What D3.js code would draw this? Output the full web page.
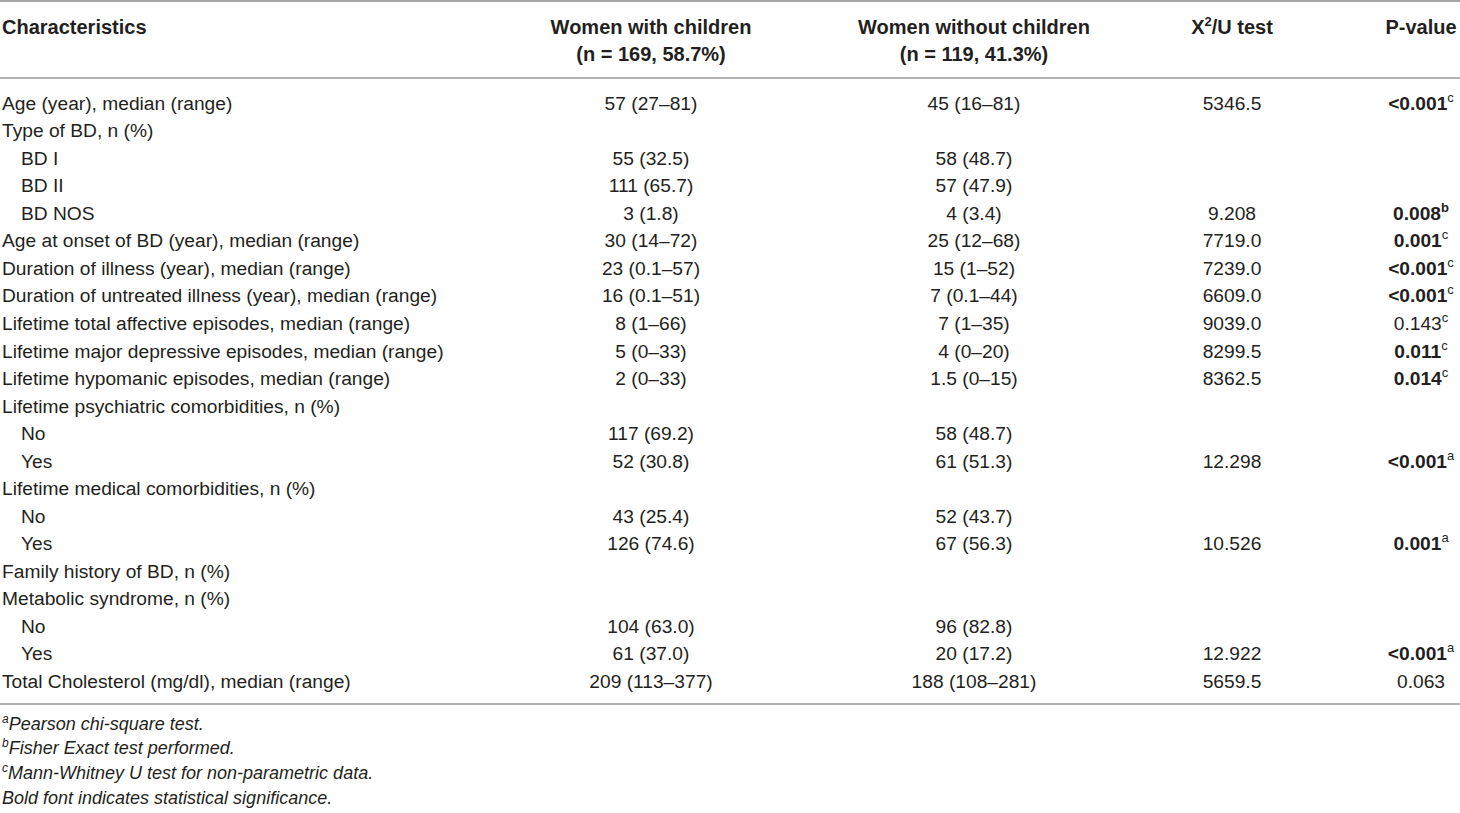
<!DOCTYPE html>
<html><head><meta charset="utf-8">
<script src="https://cdn.jsdelivr.net/npm/d3@7/dist/d3.min.js"></script>
<style>
html,body{margin:0;padding:0;background:#fff;}
svg text{font-family:"Liberation Sans Narrow","Arial Narrow","Liberation Sans",sans-serif;fill:#231f20;}
</style></head>
<body>
<svg id="c" width="1460" height="813"></svg>
<script>
const headers = [
  ["Characteristics"],
  ["Women with children", "(n = 169, 58.7%)"],
  ["Women without children", "(n = 119, 41.3%)"],
  ["X2/U test"],
  ["P-value"]
];
const labels = [
  "Age (year), median (range)",
  "Type of BD, n (%)",
  "BD I",
  "BD II",
  "BD NOS",
  "Age at onset of BD (year), median (range)",
  "Duration of illness (year), median (range)",
  "Duration of untreated illness (year), median (range)",
  "Lifetime total affective episodes, median (range)",
  "Lifetime major depressive episodes, median (range)",
  "Lifetime hypomanic episodes, median (range)",
  "Lifetime psychiatric comorbidities, n (%)",
  "No",
  "Yes",
  "Lifetime medical comorbidities, n (%)",
  "No",
  "Yes",
  "Family history of BD, n (%)",
  "Metabolic syndrome, n (%)",
  "No",
  "Yes",
  "Total Cholesterol (mg/dl), median (range)"
];
const indented = [0,0,1,1,1,0,0,0,0,0,0,0,1,1,0,1,1,0,0,1,1,0];
const withChildren = ["57 (27–81)","","55 (32.5)","111 (65.7)","3 (1.8)","30 (14–72)","23 (0.1–57)","16 (0.1–51)","8 (1–66)","5 (0–33)","2 (0–33)","","117 (69.2)","52 (30.8)","","43 (25.4)","126 (74.6)","","","104 (63.0)","61 (37.0)","209 (113–377)"];
const withoutChildren = ["45 (16–81)","","58 (48.7)","57 (47.9)","4 (3.4)","25 (12–68)","15 (1–52)","7 (0.1–44)","7 (1–35)","4 (0–20)","1.5 (0–15)","","58 (48.7)","61 (51.3)","","52 (43.7)","67 (56.3)","","","96 (82.8)","20 (17.2)","188 (108–281)"];
const testStat = ["5346.5","","","","9.208","7719.0","7239.0","6609.0","9039.0","8299.5","8362.5","","","12.298","","","10.526","","","","12.922","5659.5"];
const pValue = ["<0.001","","","","0.008","0.001","<0.001","<0.001","0.143","0.011","0.014","","","<0.001","","","0.001","","","","<0.001","0.063"];
const pSup =   ["c","","","","b","c","c","c","c","c","c","","","a","","","a","","","","a",""];
const pBold =  [1,0,0,0,1,1,1,1,0,1,1,0,0,1,0,0,1,0,0,0,1,0];
const footnotes = [
  {sup:"a", text:"Pearson chi-square test."},
  {sup:"b", text:"Fisher Exact test performed."},
  {sup:"c", text:"Mann-Whitney U test for non-parametric data."},
  {sup:"", text:"Bold font indicates statistical significance."}
];

const svg = d3.select("#c");
const FS = 19.2;
const HFS = 20;
const BASE = 6.8; // baseline offset from row centre
const colKeys = ["label","c1","c2","test","p"];
const x = d3.scaleOrdinal().domain(colKeys).range([2, 651, 974, 1232, 1421]);
const y = d3.scalePoint().domain(d3.range(labels.length)).range([103, 681]);
const lineColor = "#9a9a9a";

// rules
[1, 78, 704].forEach(v => svg.append("line").attr("x1",0).attr("x2",1460).attr("y1",v).attr("y2",v)
  .attr("stroke", v===1 ? "#888" : lineColor).attr("stroke-width", v===1?1.6:1.3));

// header
const hdrY = [27, 54];
headers.forEach((h, i) => {
  h.forEach((t, j) => {
    const tx = svg.append("text").attr("x", x(colKeys[i])).attr("y", hdrY[j] + BASE)
      .attr("font-size", HFS).attr("font-weight","bold")
      .attr("text-anchor", i===0 ? "start" : "middle");
    if (t === "X2/U test") {
      tx.append("tspan").text("X");
      tx.append("tspan").attr("font-size",13).attr("dy",-8).text("2");
      tx.append("tspan").attr("dy",8).text("/U test");
    } else tx.text(t);
  });
});

// body
const rows = svg.append("g").selectAll("g").data(labels.map((l,i)=>i)).join("g")
  .attr("transform", i => `translate(0,${y(i) + BASE})`);
rows.append("text").attr("x", i => x("label") + (indented[i] ? 19 : 0))
  .attr("font-size", FS).text(i => labels[i]);
rows.append("text").attr("x", x("c1")).attr("text-anchor","middle")
  .attr("font-size", FS).text(i => withChildren[i]);
rows.append("text").attr("x", x("c2")).attr("text-anchor","middle")
  .attr("font-size", FS).text(i => withoutChildren[i]);
rows.append("text").attr("x", x("test")).attr("text-anchor","middle")
  .attr("font-size", FS).text(i => testStat[i]);
const pt = rows.filter(i => pValue[i] !== "").append("text").attr("x", x("p")).attr("y", 0)
  .attr("text-anchor","middle").attr("font-size", FS);
pt.append("tspan").attr("font-weight", i => pBold[i] ? "bold" : "normal").text(i => pValue[i]);
pt.filter(i => pSup[i]).append("tspan").attr("font-size",13).attr("dy",-8)
  .attr("font-weight", i => pSup[i]==="b" ? "bold" : "normal").text(i => pSup[i]);

// footnotes
const fy = d3.scalePoint().domain(d3.range(footnotes.length)).range([723, 797]);
footnotes.forEach((f, i) => {
  const t = svg.append("text").attr("x", 2).attr("y", fy(i) + 6.5)
    .attr("font-size", 18).attr("font-style","italic");
  if (f.sup) {
    t.append("tspan").attr("font-size", 12).attr("dy", -7).text(f.sup);
    t.append("tspan").attr("dy", 7).text(f.text);
  } else t.text(f.text);
});
</script>
</body></html>
